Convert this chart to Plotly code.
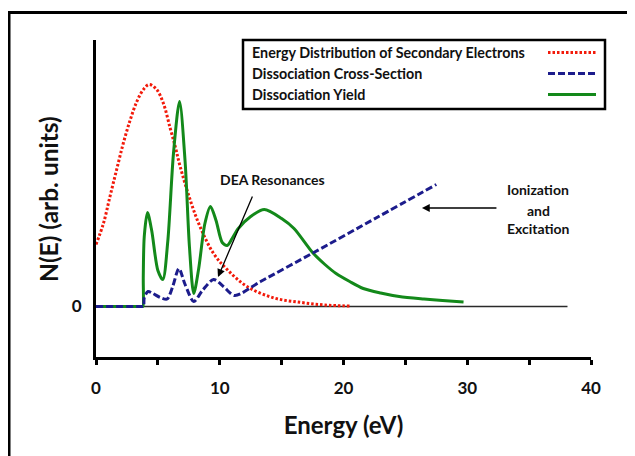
import plotly.graph_objects as go

# ---------------- data ----------------
# Energy distribution of secondary electrons (red dotted)
secondary_E = [0, 0.6, 1.13, 1.67, 2.2, 2.75, 3.3, 3.83, 4.3, 4.9, 5.45, 6.0, 6.4,
               6.8, 7.6, 8.4, 9.5, 10.6, 12.2, 14.4, 16.6, 18.5, 20.5]
secondary_N = [6.2, 8.3, 11.0, 13.7, 16.3, 18.6, 20.5, 21.7, 22.2, 21.7, 20.3, 17.8, 16.0,
               14.0, 10.7, 8.0, 5.3, 3.7, 2.0, 0.85, 0.4, 0.15, 0.05]

# Dissociation cross-section (blue dashed)
cross_E = [0, 3.8, 3.85, 3.9, 4.2, 4.6, 5.2, 5.75, 6.2, 6.7, 7.2, 7.9, 8.6, 9.5, 10.3,
           11.2, 13.3, 17.6, 22.7, 27.5]
cross_N = [0, 0, 0, 0.9, 1.5, 1.3, 0.9, 0.75, 2.0, 3.8, 2.2, 0.5, 1.6, 2.7, 2.0,
           1.1, 2.5, 5.4, 8.9, 12.2]

# Dissociation yield (green solid)
yield_E = [0, 3.76, 3.8, 3.82, 3.9, 4.16, 4.5, 5.0, 5.4, 5.8, 6.26, 6.75, 7.2, 7.55, 7.9,
           8.3, 8.8, 9.25, 9.7, 10.2, 10.6, 11.0, 11.5, 12.5, 13.6, 15.0, 16.0, 17.5,
           18.5, 19.4, 20.5, 21.6, 23.0, 24.5, 26.5, 28.0, 29.7]
yield_N = [0, 0, 0, 3.0, 7.0, 9.4, 7.6, 3.6, 2.7, 6.5, 15.3, 20.5, 14.5, 6.0, 1.3,
           3.8, 8.3, 10.0, 8.6, 6.4, 6.1, 6.8, 7.8, 9.0, 9.7, 8.8, 7.8, 5.4,
           4.2, 3.3, 2.5, 1.8, 1.35, 1.0, 0.75, 0.6, 0.45]

# zero reference line
baseline_E = [0, 38.1]
baseline_N = [0, 0]

x_tick_vals = [0, 5, 10, 15, 20, 25, 30, 35, 40]
x_tick_text = ["0", "", "10", "", "20", "", "30", "", "40"]
y_tick_vals = [0]
y_tick_text = ["0"]

legend_labels = ["Energy Distribution of Secondary Electrons",
                 "Dissociation Cross-Section",
                 "Dissociation Yield"]
ion_lines = ["Ionization", "and", "Excitation"]
y_title = "N(E) (arb. units)"
x_title = "Energy (eV)"

# ---------------- styling / layout ----------------
OFF = 8                      # page body margin of the rendered html
W, H = 635 - OFF, 456 - OFF
L = 96 - OFF
T = 40 - OFF
R = W - (591 - OFF)
B = H - (357 - OFF)
FONT = "Lato"
RED, BLUE, GREEN = "#f21a0a", "#1c1c8c", "#13891a"
RED_DASH, BLUE_DASH = "2.5px,2px", "7px,3px"


def px_x(p):
    """window x pixel -> paper coordinate"""
    return (p - OFF - L) / (W - L - R)


def px_y(p):
    """window y pixel -> paper coordinate"""
    return (H - B - (p - OFF)) / (H - T - B)


fig = go.Figure()
fig.add_trace(go.Scatter(x=baseline_E, y=baseline_N, mode="lines",
                         line=dict(color="#2a2a2a", width=1.6), showlegend=False,
                         hoverinfo="skip"))
fig.add_trace(go.Scatter(x=secondary_E, y=secondary_N, mode="lines", name=legend_labels[0],
                         line=dict(color=RED, width=3, dash=RED_DASH, shape="spline",
                                   smoothing=1.0), showlegend=False))
fig.add_trace(go.Scatter(x=yield_E, y=yield_N, mode="lines", name=legend_labels[2],
                         line=dict(color=GREEN, width=3, shape="spline", smoothing=0.8),
                         showlegend=False))
fig.add_trace(go.Scatter(x=cross_E, y=cross_N, mode="lines", name=legend_labels[1],
                         line=dict(color=BLUE, width=3, dash=BLUE_DASH, shape="spline",
                                   smoothing=0.8), showlegend=False))

shapes = []
# outer figure border
shapes.append(dict(type="rect", xref="paper", yref="paper",
                   x0=px_x(9), x1=px_x(660), y0=px_y(480), y1=px_y(12.5),
                   line=dict(color="black", width=3), layer="above"))
# legend box
shapes.append(dict(type="rect", xref="paper", yref="paper",
                   x0=px_x(243), x1=px_x(605), y0=px_y(109), y1=px_y(40),
                   line=dict(color="black", width=2.5), fillcolor="white", layer="above"))
rows = [52.5, 73.5, 94.5]
styles = [(RED, RED_DASH), (BLUE, BLUE_DASH), (GREEN, "solid")]
annotations = []
for lab, ry, (c, d) in zip(legend_labels, rows, styles):
    shapes.append(dict(type="line", xref="paper", yref="paper",
                       x0=px_x(548), x1=px_x(596), y0=px_y(ry), y1=px_y(ry),
                       line=dict(color=c, width=3, dash=d), layer="above"))
    annotations.append(dict(xref="paper", yref="paper", x=px_x(250), y=px_y(ry),
                            xanchor="left", yanchor="middle", showarrow=False,
                            text=lab, font=dict(family=FONT, size=14.3, color="#111",
                                                weight="bold")))

# DEA arrow + label
annotations.append(dict(x=9.86, y=2.95, ax=12.69, ay=11.15, xref="x", yref="y",
                        axref="x", ayref="y", text="", showarrow=True, arrowhead=2,
                        arrowsize=1.2, arrowwidth=1.3, arrowcolor="black"))
annotations.append(dict(x=14.3, y=12.7, xref="x", yref="y", showarrow=False,
                        text="DEA Resonances",
                        font=dict(family=FONT, size=14, color="#111", weight="bold")))
# Ionization arrow + label
annotations.append(dict(x=26.34, y=9.85, ax=32.48, ay=9.85, xref="x", yref="y",
                        axref="x", ayref="y", text="", showarrow=True, arrowhead=2,
                        arrowsize=1.2, arrowwidth=1.3, arrowcolor="black"))
for line_txt, ly in zip(ion_lines, [190, 210, 228.5]):
    annotations.append(dict(xref="paper", yref="paper", x=px_x(538), y=px_y(ly),
                            xanchor="center", yanchor="middle", showarrow=False,
                            text=line_txt,
                            font=dict(family=FONT, size=14, color="#111", weight="bold")))
# y axis title (placed explicitly)
annotations.append(dict(xref="paper", yref="paper", x=px_x(48), y=px_y(199),
                        xanchor="center", yanchor="middle", showarrow=False,
                        textangle=-90, text=y_title,
                        font=dict(family=FONT, size=24.5, color="#111", weight="bold")))

fig.update_layout(
    width=W, height=H,
    margin=dict(l=L, r=R, t=T, b=B, autoexpand=False),
    paper_bgcolor="white", plot_bgcolor="white",
    shapes=shapes, annotations=annotations,
    showlegend=False,
    xaxis=dict(range=[0, 40], showline=True, linewidth=3, linecolor="black",
               ticks="outside", ticklen=5, tickwidth=3, tickcolor="black",
               tickvals=x_tick_vals, ticktext=x_tick_text, showgrid=False, zeroline=False,
               ticklabelstandoff=9,
               tickfont=dict(family=FONT, size=17, color="#111", weight="bold"),
               title=dict(text=x_title, standoff=20,
                          font=dict(family=FONT, size=24, color="#111", weight="bold"))),
    yaxis=dict(range=[-5.05, 26.65], showline=True, linewidth=3, linecolor="black",
               ticks="", tickvals=y_tick_vals, ticktext=y_tick_text, showgrid=False,
               zeroline=False, ticklabelstandoff=8,
               tickfont=dict(family=FONT, size=17, color="#111", weight="bold")),
)

fig.write_html("out.html")
